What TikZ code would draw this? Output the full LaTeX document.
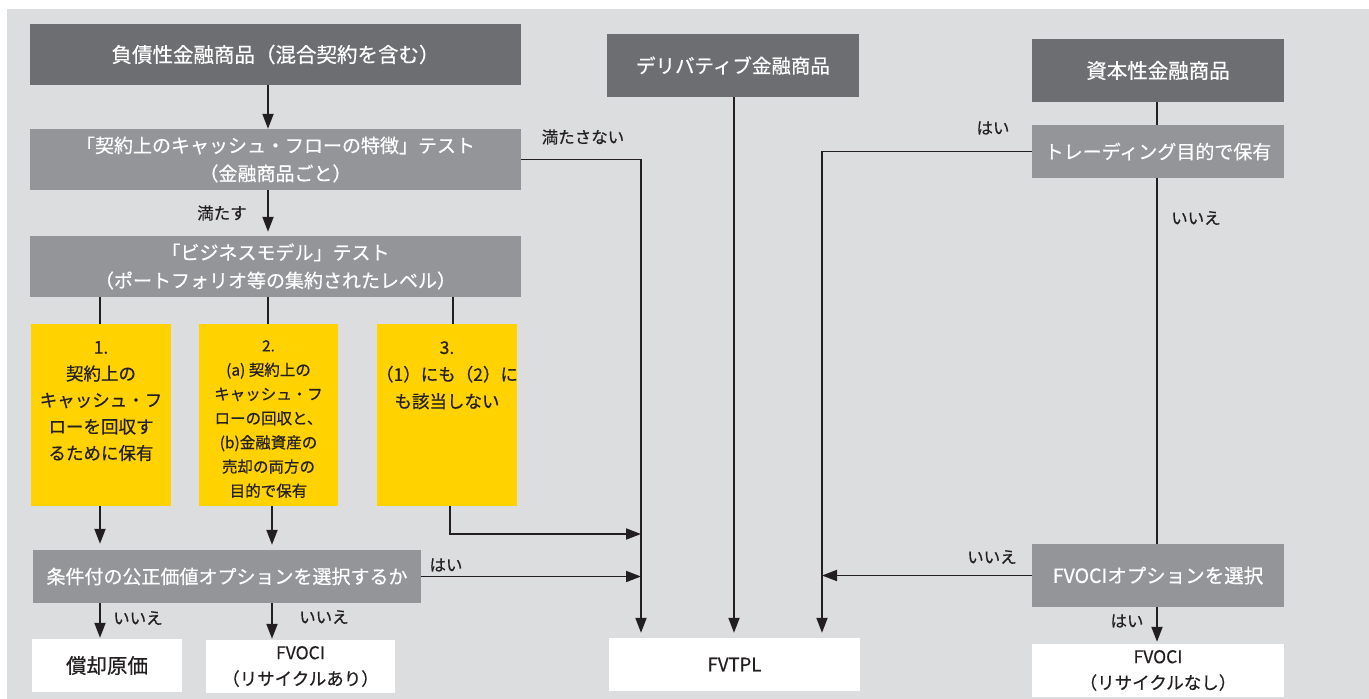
\documentclass[tikz,border=0pt]{standalone}
\usepackage{fontspec}
\setmainfont{Noto Sans CJK JP}[FakeBold=0.5]
\usetikzlibrary{arrows.meta}
\definecolor{bgc}{HTML}{DCDDDF}
\definecolor{darkbox}{HTML}{6D6E71}
\definecolor{midbox}{HTML}{939598}
\definecolor{ybox}{HTML}{FFD200}
\definecolor{ink}{HTML}{231F20}
\begin{document}
\begin{tikzpicture}[x=1pt,y=-1pt,
 box/.style={rectangle, inner sep=0pt, align=center},
 dark/.style={box, fill=darkbox, text=white},
 mid/.style={box, fill=midbox, text=white},
 yel/.style={box, fill=ybox},
 res/.style={box, fill=white, text=ink},
 ytext/.style={text=ink, align=center, anchor=north, inner sep=0pt},
 conn/.style={draw=ink, line width=1.9pt},
 arr/.style={conn, -{Triangle[length=15pt,width=11pt]}},
 lbl/.style={text=ink, font=\fontsize{16.5}{18}\selectfont, inner sep=0pt},
]
\useasboundingbox (0,0) rectangle (1369,699);
\fill[bgc] (7,9) rectangle (1369,699);

% column / row coordinates
\coordinate (xA) at (100,0);
\coordinate (xB) at (268,0);
\coordinate (xB2) at (272,0);
\coordinate (xC) at (453,0);
\coordinate (xC2) at (450,0);
\coordinate (xD) at (641,0);
\coordinate (xE) at (734,0);
\coordinate (xF) at (822,0);
\coordinate (xG) at (1157,0);
\coordinate (yH) at (0,534);

% left column
\node[dark, minimum width=491pt, minimum height=61pt, font=\fontsize{20.5}{24}\selectfont] (debt) at (275.5,54.5) {負債性金融商品（混合契約を含む）};
\node[mid, minimum width=491pt, minimum height=61pt, font=\fontsize{19}{28}\selectfont] (cf) at (275.5,159.5) {「契約上のキャッシュ・フローの特徴」テスト\\（金融商品ごと）};
\node[mid, minimum width=491pt, minimum height=61pt, font=\fontsize{19}{28}\selectfont] (bm) at (275.5,266.5) {「ビジネスモデル」テスト\\（ポートフォリオ等の集約されたレベル）};

\node[yel, minimum width=140pt, minimum height=182pt] (y1) at (101,415) {};
\node[yel, minimum width=139pt, minimum height=182pt] (y2) at (268.5,415) {};
\node[yel, minimum width=140pt, minimum height=182pt] (y3) at (447,415) {};
\node[ytext, font=\fontsize{17.5}{26.5}\selectfont] (y1t) at (101,341) {1.\\契約上の\\キャッシュ・フ\\ローを回収す\\るために保有};
\node[ytext, font=\fontsize{15.5}{24.2}\selectfont] (y2t) at (268.5,340) {2.\\(a) 契約上の\\キャッシュ・フ\\ローの回収と、\\(b)金融資産の\\売却の両方の\\目的で保有};
\node[ytext, font=\fontsize{17.5}{27}\selectfont] (y3t) at (447,341) {3.\\（1）にも（2）に\\も該当しない};

\node[mid, minimum width=388pt, minimum height=53pt, font=\fontsize{19}{24}\selectfont] (opt) at (227,576.5) {条件付の公正価値オプションを選択するか};

\node[res, minimum width=150pt, minimum height=53pt, font=\fontsize{20.5}{24}\selectfont] (amort) at (107,665.5) {償却原価};
\node[res, minimum width=189pt, minimum height=53pt, font=\fontsize{17.5}{26}\selectfont] (fvoci1) at (300.5,666.5) {FVOCI\\（リサイクルあり）};

% middle
\node[dark, minimum width=252pt, minimum height=63pt, font=\fontsize{19.5}{24}\selectfont] (deriv) at (733,65.5) {デリバティブ金融商品};
\node[res, minimum width=251pt, minimum height=53pt, font=\fontsize{18.5}{24}\selectfont] (fvtpl) at (734.5,664.5) {FVTPL};

% right
\node[dark, minimum width=252pt, minimum height=63pt, font=\fontsize{20.5}{24}\selectfont] (equity) at (1158,70.5) {資本性金融商品};
\node[mid, minimum width=252pt, minimum height=53pt, font=\fontsize{19}{24}\selectfont] (trading) at (1158,151.5) {トレーディング目的で保有};
\node[mid, minimum width=252pt, minimum height=63pt, font=\fontsize{19.5}{24}\selectfont] (fvociopt) at (1158,575.5) {FVOCIオプションを選択};
\node[res, minimum width=252pt, minimum height=53pt, font=\fontsize{17.5}{26}\selectfont] (fvoci2) at (1158,670.5) {FVOCI\\（リサイクルなし）};

% connectors
\draw[arr] (debt.south -| xB) -- (cf.north -| xB);
\draw[arr, shorten >=4pt] (cf.south -| xB) -- (bm.north -| xB);
\draw[conn] (bm.south -| xA) -- (y1.north -| xA);
\draw[conn] (bm.south -| xB) -- (y2.north -| xB);
\draw[conn] (bm.south -| xC) -- (y3.north -| xC);
\draw[arr, shorten >=6pt] (y1.south -| xA) -- (opt.north -| xA);
\draw[arr, shorten >=5pt] (y2.south -| xB2) -- (opt.north -| xB2);
\draw[arr] (y3.south -| xC2) |- (xD |- yH);
\draw[arr] (opt.east) -- (opt.east -| xD);
\draw[arr, shorten >=1pt] (opt.south -| xA) -- (amort.north -| xA);
\draw[arr, shorten >=1pt] (opt.south -| xB2) -- (fvoci1.north -| xB2);
\draw[arr, shorten >=5pt] (cf.east) -| (fvtpl.north -| xD);
\draw[arr, shorten >=5pt] (deriv.south -| xE) -- (fvtpl.north -| xE);
\draw[arr, shorten >=5pt] (trading.west) -| (fvtpl.north -| xF);
\draw[arr] (fvociopt.west) -- (fvociopt.west -| xF);
\draw[conn] (equity.south -| xG) -- (trading.north -| xG);
\draw[conn] (trading.south -| xG) -- (fvociopt.north -| xG);
\draw[arr, shorten >=2pt] (fvociopt.south -| xG) -- (fvoci2.north -| xG);

% labels
\node[lbl] (l1) at (222,213) {満たす};
\node[lbl] (l2) at (583,137) {満たさない};
\node[lbl] (l3) at (446,565) {はい};
\node[lbl] (l4) at (138,618) {いいえ};
\node[lbl] (l5) at (324,617) {いいえ};
\node[lbl] (l6) at (993,128) {はい};
\node[lbl] (l7) at (1196,218) {いいえ};
\node[lbl] (l8) at (992,557) {いいえ};
\node[lbl] (l9) at (1127,621) {はい};
\end{tikzpicture}
\end{document}
